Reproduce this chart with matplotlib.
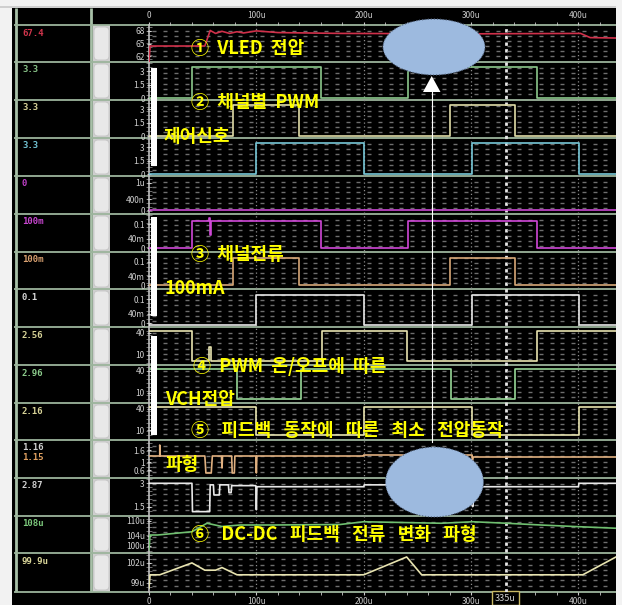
import numpy as np
import matplotlib
matplotlib.use("Agg")
import matplotlib.pyplot as plt
import matplotlib.transforms as mtransforms
from matplotlib.patches import Rectangle, Ellipse, Polygon, FancyBboxPatch
from matplotlib.ticker import MultipleLocator

plt.rcParams['font.family'] = ['Noto Sans CJK KR', 'DejaVu Sans']

W, H = 622, 605

# --- time axis (us) ---
time_ticks = [0, 100, 200, 300, 400]
time_labels = ['0', '100u', '200u', '300u', '400u']
t_max = 435
cursor_t = 333
cursor_label = '335u'

# --- channel readouts on the left panel ---
row_values = ['67.4', '3.3', '3.3', '3.3', '0', '100m', '100m', '0.1',
              '2.56', '2.96', '2.16', '1.16', '2.87', '108u', '99.9u']
row_colors = ['#D0354C', '#86C086', '#D8D298', '#72C2D2', '#C040C8', '#C846D0',
              '#D8A070', '#D8D8D8', '#D8D498', '#8CCC8C', '#D8D498', '#D0D0D0',
              '#D0D0D0', '#7CC87C', '#D8D498']
row_ylims = [(60.6, 69.4), (-0.22, 4.0), (-0.22, 4.0), (-0.22, 4.0), (-0.14, 1.25),
             (-0.015, 0.142), (-0.015, 0.142), (-0.015, 0.142),
             (-4, 48), (-4, 48), (-4, 48), (0.2, 2.1), (0.9, 3.34),
             (97.1, 111.9), (97.6, 103.5)]
row_ticks = [[68, 65, 62], [3, 1.5, 0], [3, 1.5, 0], [3, 1.5, 0], [1, 0.4, 0],
             [0.1, 0.04, 0], [0.1, 0.04, 0], [0.1, 0.04, 0],
             [40, 10], [40, 10], [40, 10], [1.6, 1, 0.6], [3, 1.5],
             [110, 104, 100], [102, 99]]
row_ticklabels = [['68', '65', '62'], ['3', '1.5', '0'], ['3', '1.5', '0'], ['3', '1.5', '0'],
                  ['1u', '400n', '0'], ['0.1', '40m', '0'], ['0.1', '40m', '0'],
                  ['0.1', '40m', '0'], ['40', '10'], ['40', '10'], ['40', '10'],
                  ['1.6', '1', '0.6'], ['3', '1.5'], ['110u', '104u', '100u'],
                  ['102u', '99u']]

# --- traces ---
vled_t = [0, 1, 52, 57, 62, 68, 75, 82, 88, 100, 120, 178, 302, 402, 411, 435]
vled_v = [60.6, 64.4, 64.4, 68.1, 67.4, 67.9, 67.4, 67.8, 67.5, 68.0, 67.6, 67.4, 67.3, 67.4, 66.4, 66.3]

pwm1_t = [0, 40, 160, 241, 361, 435]
pwm1_v = [0.05, 3.4, 0.05, 3.4, 0.05, 0.05]
pwm2_t = [0, 78, 140, 280, 341, 435]
pwm2_v = [0.05, 3.4, 0.05, 3.4, 0.05, 0.05]
pwm3_t = [0, 100, 200, 301, 401, 435]
pwm3_v = [0.05, 3.4, 0.05, 3.4, 0.05, 0.05]

ch5_t = [0, 435]
ch5_v = [0.0, 0.0]

i1_t = [0, 40, 56, 57, 58, 160, 241, 361, 435]
i1_v = [0.0, 0.115, 0.125, 0.055, 0.115, 0.0, 0.115, 0.0, 0.0]
i2_t = [0, 78, 140, 280, 341, 435]
i2_v = [0.0, 0.115, 0.0, 0.115, 0.0, 0.0]
i3_t = [0, 100, 200, 301, 401, 435]
i3_v = [-0.005, 0.118, -0.005, 0.118, -0.005, -0.005]

vch1_t = [0, 40, 56, 58, 161, 240, 361, 435]
vch1_v = [42, 1, 20, 1, 42, 1, 42, 42]
vch2_t = [0, 82, 142, 281, 341, 435]
vch2_v = [42, 2, 42, 2, 42, 42]
vch3_t = [0, 100, 200, 301, 401, 435]
vch3_v = [42, 2.5, 42, 2.5, 42, 42]

fbv_t = [0, 10, 10, 10.5, 52, 53, 58, 59, 67.5, 68, 68.5, 77, 77.5, 79.5, 80,
         99.5, 100, 100.5, 200, 200, 301, 301, 302, 435]
fbv_v = [1.3, 1.3, 1.85, 1.3, 1.3, 0.45, 0.45, 1.3, 1.3, 0.7, 1.3, 1.3, 0.45, 0.45, 1.3,
         1.3, 0.45, 1.3, 1.3, 1.35, 1.35, 0.9, 1.25, 1.25]

fbw_t = [0, 40, 40.5, 56.5, 57, 60, 60.5, 65.5, 66, 74, 74.5, 76.5, 77, 99.5, 100, 100.5,
         200, 200.5, 301, 301.5, 302, 400, 400.5, 435]
fbw_v = [3.0, 3.0, 1.18, 1.18, 2.9, 2.9, 2.25, 2.25, 2.9, 2.9, 2.4, 2.4, 2.85, 2.85, 1.3, 2.78,
         2.78, 2.9, 2.9, 1.5, 2.78, 2.78, 3.0, 3.0]

fbi_t = [0, 1, 8, 40, 54, 68, 85, 116, 178, 200, 272, 302, 333, 365, 396, 435]
fbi_v = [98.3, 104.3, 104.3, 105.6, 109.0, 107.7, 108.3, 108.3, 108.5, 109.6, 109.0, 109.6,
         109.0, 108.3, 107.7, 107.0]

dc_t = [0, 1, 10, 40, 52, 62, 68, 82, 200, 240, 254, 404, 435]
dc_v = [98.2, 100.2, 100.2, 102.0, 100.9, 100.9, 101.3, 100.2, 100.2, 102.9, 100.2, 100.2, 102.9]

# (t, v, colour, step?) for each row
row_traces = [
    [(vled_t, vled_v, '#D0304A', False)],
    [(pwm1_t, pwm1_v, '#8CC88C', True)],
    [(pwm2_t, pwm2_v, '#E0DCA8', True)],
    [(pwm3_t, pwm3_v, '#78C8D8', True)],
    [(ch5_t, ch5_v, '#C848D0', False)],
    [(i1_t, i1_v, '#D048D8', True)],
    [(i2_t, i2_v, '#D8A878', True)],
    [(i3_t, i3_v, '#E8E8E8', True)],
    [(vch1_t, vch1_v, '#E8E4B0', True)],
    [(vch2_t, vch2_v, '#98D898', True)],
    [(vch3_t, vch3_v, '#E8E4B0', True)],
    [(fbv_t, fbv_v, '#E0B080', False)],
    [(fbw_t, fbw_v, '#E8E8E8', False)],
    [(fbi_t, fbi_v, '#70C070', False)],
    [(dc_t, dc_v, '#E8E4B0', False)],
]

# --- annotation texts (yellow captions) ---
note_texts = ['①  VLED  전압', '②  채널별  PWM', '제어신호', '③  채널전류', '100mA',
              '④  PWM  온/오프에  따른', 'VCH전압', '⑤   피드백   동작에   따른   최소   전압동작',
              '파형', '⑥   DC-DC   피드백   전류   변화   파형']
note_x = [191, 191, 164, 191, 165, 193, 165, 191, 165, 191]
note_y = [48, 103, 137, 255, 289, 366, 399, 431, 465, 535]

# layout in pixels
row_edges = [25, 62, 100, 138, 176, 214, 252, 289, 327, 365, 403, 440, 478, 516, 553, 592]
x_left, x_right = 149, 616


def fig_rect(x0, y0, x1, y1):
    return [x0 / W, 1 - y1 / H, (x1 - x0) / W, (y1 - y0) / H]


fig = plt.figure(figsize=(W / 100, H / 100), dpi=100, facecolor='white')

# background / left panel in pixel coords
bg = fig.add_axes([0, 0, 1, 1], zorder=0)
bg.set_xlim(0, W)
bg.set_ylim(H, 0)
bg.set_facecolor('black')
bg.axis('off')
bg.add_patch(Rectangle((0, 0), W, H, fc='black', ec='none'))
bg.add_patch(Rectangle((0, 0), 12, H, fc='#F2F2F2', ec='none'))
bg.add_patch(Rectangle((0, 0), W, 8, fc='#F2F2F2', ec='none'))
bg.add_patch(Rectangle((0, 6), W, 2, fc='#CFCFCF', ec='none'))
bg.add_patch(Rectangle((x_right, 0), W - x_right, H, fc='#F2F2F2', ec='none'))
bg.vlines([15.5, 90.5], 8, 592, color='#A8C0A8', lw=2)
bg.add_patch(Rectangle((93, 25), 17, 567, fc='#CFCFCF', ec='none'))
for i in range(len(row_values)):
    top, bot = row_edges[i], row_edges[i + 1]
    bg.add_patch(FancyBboxPatch((94, top + 2), 15, bot - top - 4,
                                boxstyle='round,pad=0,rounding_size=4',
                                fc='#E8E8E8', ec='#C4C4C4', lw=0.6))
    bg.text(22, top + 8, row_values[i], color=row_colors[i], fontsize=6.5,
            fontweight='bold', family='DejaVu Sans Mono', va='center', ha='left')
bg.text(22, row_edges[11] + 17, '1.15', color='#E0A060', fontsize=6.5,
        fontweight='bold', family='DejaVu Sans Mono', va='center', ha='left')
bg.hlines(row_edges, 14, x_right, color='#9CB49C', lw=1.3)
bg.hlines(np.arange(27, 592, 4), 146, 152, color='#9A9A9A', lw=0.5)

# common time axis
tax = fig.add_axes(fig_rect(x_left, 25, x_right, 592), zorder=1)
tax.set_facecolor('none')
tax.set_xlim(0, t_max)
tax.set_ylim(0, 1)
tax.set_yticks([])
tax.set_xticks(time_ticks, time_labels)
tax.xaxis.set_minor_locator(MultipleLocator(20))
tax.tick_params(axis='x', which='both', top=True, labeltop=True, bottom=True,
                labelbottom=True, colors='#C8C8C8', labelsize=6, length=2, pad=1.5)
for s in ['top', 'right', 'bottom']:
    tax.spines[s].set_visible(False)
tax.spines['left'].set_color('#C0C0C0')
tax.spines['left'].set_linewidth(1.2)
for t in time_ticks[1:]:
    tax.axvline(t, color='#8C8C8C', lw=0.9, ls=(0, (1, 2)))
tax.axvline(cursor_t, color='#E6E6E6', lw=2, ls=(0, (1.2, 1.2)), zorder=5)
blend = mtransforms.blended_transform_factory(tax.transData, tax.transAxes)
tax.text(cursor_t - 1, -0.003, cursor_label, transform=blend, ha='center', va='top',
         fontsize=6.5, color='#D0D0D0',
         bbox=dict(boxstyle='square,pad=0.3', fc='black', ec='#C8B864', lw=1))

# one axes per channel
mesh_t = np.arange(5, t_max, 10)
mesh_f = np.linspace(0.16, 0.84, 6)
for i in range(len(row_values)):
    ax = fig.add_axes(fig_rect(x_left, row_edges[i], x_right, row_edges[i + 1]), zorder=2)
    ax.set_facecolor('none')
    ax.set_xlim(0, t_max)
    ax.set_ylim(*row_ylims[i])
    for s in ax.spines.values():
        s.set_visible(False)
    ax.set_xticks([])
    ax.set_yticks(row_ticks[i], row_ticklabels[i])
    ax.tick_params(axis='y', colors='#D0D0D0', labelsize=6, length=3, width=0.8,
                   direction='inout', pad=1.5)
    mx, my = np.meshgrid(mesh_t, mesh_f)
    ax.plot(mx.ravel(), my.ravel(), ls='none', marker='_', ms=2.8, mew=1,
            color='#6E6E6E', transform=ax.get_xaxis_transform(), zorder=0)
    for t, v, c, step in row_traces[i]:
        ax.plot(t, v, color=c, lw=1.2, drawstyle='steps-post' if step else 'default',
                zorder=3)

# overlay: captions, bars, ellipses, arrow
ov = fig.add_axes([0, 0, 1, 1], zorder=10)
ov.set_xlim(0, W)
ov.set_ylim(H, 0)
ov.set_facecolor('none')
ov.axis('off')
for y0, y1 in [(68, 166), (217, 316), (336, 435)]:
    ov.add_patch(Rectangle((151, y0), 6, y1 - y0, fc='white', ec='none'))
for txt, x, y in zip(note_texts, note_x, note_y):
    ov.text(x, y, txt, color='#FFFF00', fontsize=13, fontweight='bold',
            ha='left', va='center')
ov.plot([431.7, 431.7], [90, 442], color='white', lw=0.8)
ov.add_patch(Polygon([(431.7, 76), (423, 92), (440.5, 92)], closed=True, fc='white', ec='none'))
for cx, cy, w, h in [(434, 47, 102, 56), (434.5, 482, 98, 70)]:
    ov.add_patch(Ellipse((cx, cy), w, h, fc='#9DBADF', ec='#50607A', lw=0.8, ls=':'))

fig.savefig('out.png', dpi=100, facecolor='white')
